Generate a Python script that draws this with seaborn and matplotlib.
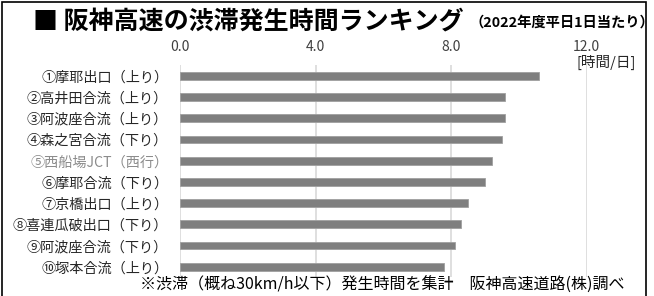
import numpy as np
import pandas as pd
import matplotlib
matplotlib.use("Agg")
import matplotlib.pyplot as plt
from matplotlib.patches import Rectangle
import seaborn as sns

# data (hours per weekday)
sections = ["①摩耶出口（上り）", "②高井田合流（上り）", "③阿波座合流（上り）",
            "④森之宮合流（下り）", "⑤西船場JCT（西行）", "⑥摩耶合流（下り）",
            "⑦京橋出口（上り）", "⑧喜連瓜破出口（下り）", "⑨阿波座合流（下り）",
            "⑩塚本合流（上り）"]
hours = [10.6, 9.6, 9.6, 9.5, 9.2, 9.0, 8.5, 8.3, 8.1, 7.8]
x_ticks = [0, 4, 8, 12]
x_tick_labels = ["0.0", "4.0", "8.0", "12.0"]

df = pd.DataFrame({"section": sections, "hours": hours})

sns.set_style("white")
plt.rcParams["font.family"] = ["Noto Sans CJK JP", "DejaVu Sans"]

fig = plt.figure(figsize=(6.54, 2.96), dpi=100)
ax = fig.add_axes([180 / 654, 1 - 277.3 / 296, (586.7 - 180) / 654, (277.3 - 65.4) / 296])

sns.barplot(data=df, x="hours", y="section", orient="h", color="#7f7f7f",
            saturation=1, width=0.37, edgecolor="#a0a0a0", linewidth=0.6, ax=ax)

ax.set_xlim(0, 12)
ax.set_xticks(x_ticks)
ax.set_xticklabels(x_tick_labels)
ax.xaxis.tick_top()
ax.set_xlabel("")
ax.set_ylabel("")
ax.grid(axis="x", color="#d9d9d9", linewidth=1.2)
ax.set_axisbelow(True)
for s in ax.spines.values():
    s.set_visible(False)

ax.tick_params(axis="x", length=0, pad=8.5, labelsize=10, labelcolor="#404040")
ax.tick_params(axis="y", length=0, pad=8.5, labelsize=10.2, labelcolor="#262626")
ax.get_yticklabels()[4].set_color("#8c8c8c")

fig.text(577 / 654, 1 - 62 / 296, "[時間/日]", ha="left", va="center",
         fontsize=10.5, color="#262626")

fig.text(33 / 654, 1 - 22 / 296, "■ 阪神高速の渋滞発生時間ランキング",
         fontsize=18, fontweight="bold", ha="left", va="center", color="black")
fig.text(470 / 654, 1 - 23 / 296, "（2022年度平日1日当たり）",
         fontsize=10.3, fontweight="bold", ha="left", va="center", color="black")
fig.text(382 / 654, 1 - 285 / 296,
         "※渋滞（概ね30km/h以下）発生時間を集計　阪神高速道路(株)調べ",
         fontsize=11.5, ha="center", va="center", color="black")

fig.patches.append(Rectangle((1.5 / 654, -0.05), (646 - 1.5) / 654, 1.05 - 1.5 / 296,
                             transform=fig.transFigure, fill=False,
                             edgecolor="black", linewidth=1.2))

fig.savefig("out.png", dpi=100)
